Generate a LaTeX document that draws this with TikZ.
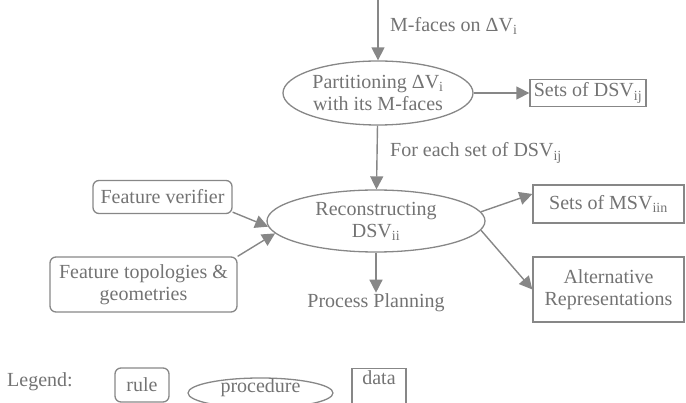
\documentclass[tikz,border=0pt]{standalone}
\usepackage{fontspec}
\setmainfont{Liberation Serif}
\usetikzlibrary{shapes.geometric,arrows.meta}
\definecolor{ink}{RGB}{135,135,135}
\definecolor{txt}{RGB}{115,115,115}

\begin{document}
\begin{tikzpicture}[x=1pt,y=-1pt,
  every node/.style={text=txt,font=\fontsize{20}{22}\selectfont,inner sep=2pt},
  proc/.style={draw=ink,line width=1.3pt,ellipse,inner sep=0pt,align=center},
  rulebox/.style={draw=ink,line width=1.3pt,rounded corners=6pt,align=center},
  databox/.style={draw=ink,line width=1.3pt,align=center},
  flow/.style={draw=ink,line width=1.4pt,-{Triangle[length=13pt,width=13pt]}}]
\clip (0,0) rectangle (686,403);
\path
(378,0) coordinate (in)
(378,93) node[proc,minimum width=190pt,minimum height=64pt] (partition) {Partitioning ΔV\textsubscript{i}\\with its M-faces}
(388,26) node[anchor=west] (infaces) {M-faces on ΔV\textsubscript{i}}
(588,93) node[databox,minimum width=116pt,minimum height=27pt,inner sep=0pt] (dsvsets) {Sets of DSV\textsubscript{ij}}
(388,153) node[anchor=west] (foreach) {For each set of DSV\textsubscript{ij}}
(376,221) node[proc,minimum width=218pt,minimum height=62pt] (reconstruct) {Reconstructing\\DSV\textsubscript{ii}}
(162.5,197) node[rulebox,minimum width=139pt,minimum height=33pt] (verifier) {Feature verifier}
(143.5,284.5) node[rulebox,minimum width=187pt,minimum height=55pt,inner sep=0pt] (topo) {Feature topologies \&\\geometries}
(608.5,204) node[databox,minimum width=151pt,minimum height=38pt] (msvsets) {Sets of MSV\textsubscript{iin}}
(608.5,289.5) node[databox,minimum width=151pt,minimum height=65pt,inner sep=0pt] (altrep) {Alternative\\Representations}
(376,303) node[inner sep=1pt] (planning) {Process Planning}
%legend
(40,382) node (legend) {Legend:}
(142,385) node[rulebox,minimum width=54pt,minimum height=34pt] (lrule) {rule}
(260.5,393) node[proc,minimum width=145pt,minimum height=30pt] (lproc) {}
(260.5,388) node (lproctext) {procedure}
(379,368) node[databox,anchor=north,minimum width=54pt,text depth=30pt] (ldata) {data};
\draw[flow] (in)--(partition);
\draw[flow] (partition.east)--(dsvsets.west);
\draw[flow] (partition)--(reconstruct);
\draw[flow] ([yshift=2pt]verifier.south east)--(reconstruct.183);
\draw[flow] (topo.north east)--(reconstruct.187);
\draw[flow] (reconstruct.5)--([yshift=10pt]msvsets.west);
\draw[flow] (reconstruct.-5)--(altrep.west);
\draw[flow] (reconstruct)--(planning);
\end{tikzpicture}
\end{document}
